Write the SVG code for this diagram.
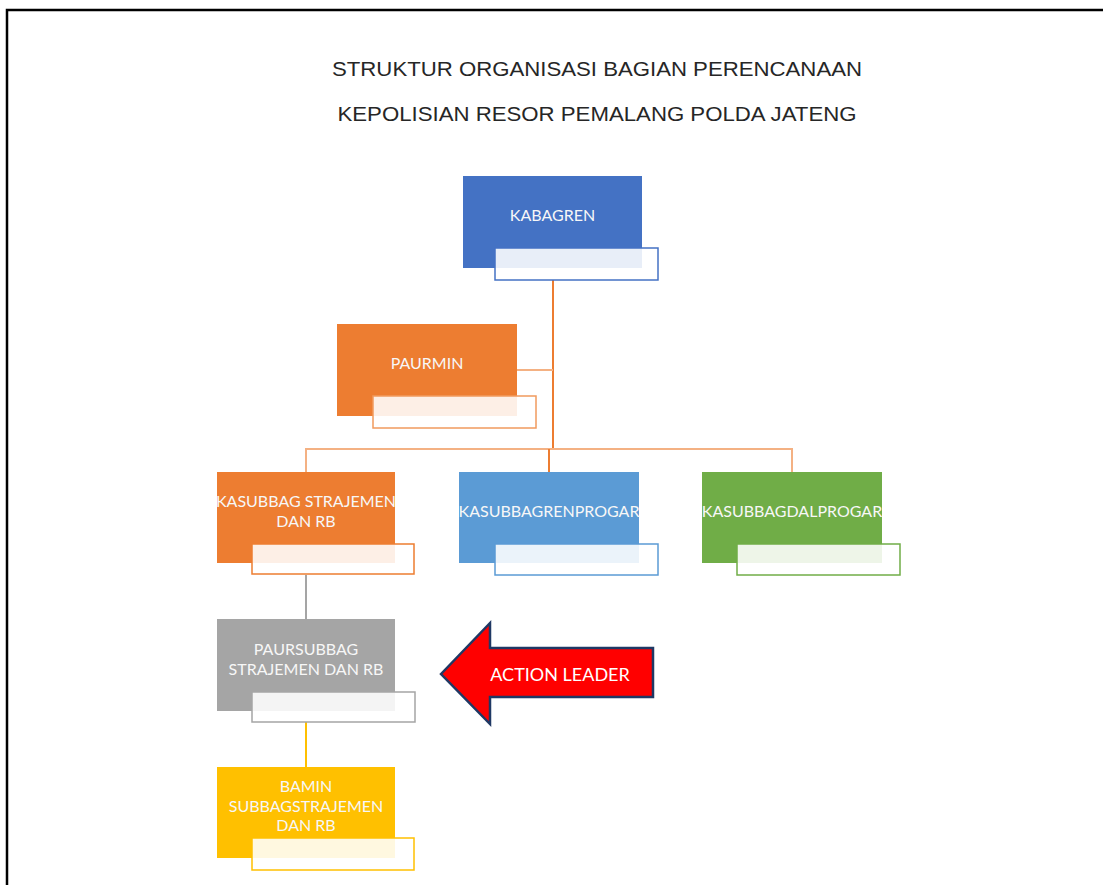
<svg xmlns="http://www.w3.org/2000/svg" width="1103" height="885" viewBox="0 0 1103 885">
<style>
.title{font-family:"Liberation Sans",Arial,sans-serif;font-size:21px;fill:#262626}
.lbl{font-family:Lato,"Open Sans",sans-serif;font-size:16px;fill:#F7F7F7;text-anchor:middle}
.sub{fill:#FFFFFF;fill-opacity:0.88;stroke-width:1.5}
.con{fill:none;stroke-width:2}
</style>
<rect x="0" y="0" width="1103" height="885" fill="#FFFFFF"/>
<path d="M7,885 V10 H1103" fill="none" stroke="#000000" stroke-width="2.5"/>
<text class="title" x="597" y="76" text-anchor="middle" textLength="530" lengthAdjust="spacingAndGlyphs">STRUKTUR ORGANISASI BAGIAN PERENCANAAN</text>
<text class="title" x="597" y="121" text-anchor="middle" textLength="519" lengthAdjust="spacingAndGlyphs">KEPOLISIAN RESOR PEMALANG POLDA JATENG</text>
<g id="connectors">
<path class="con" d="M553,280 V450" stroke="#ED7D31"/>
<path class="con" d="M517,370 H553" stroke="#F4B183"/>
<path class="con" d="M306,472 V449 H792 V472" stroke="#F4B183"/>
<path class="con" d="M549,449 V472" stroke="#ED7D31"/>
<path class="con" d="M306,575 V619" stroke="#A5A5A5" stroke-width="1.5"/>
<path class="con" d="M306,722 V767" stroke="#FFC000" stroke-width="1.5"/>
</g>
<g id="kabagren">
<rect x="463" y="176" width="179" height="92" fill="#4472C4"/>
<text class="lbl" x="552.5" y="221">KABAGREN</text>
<rect class="sub" x="495" y="248" width="163" height="32" stroke="#4472C4"/>
</g>
<g id="paurmin">
<rect x="337" y="324" width="180" height="92" fill="#ED7D31"/>
<text class="lbl" x="427" y="369">PAURMIN</text>
<rect class="sub" x="373" y="396" width="163" height="32" stroke="#F19A5E"/>
</g>
<g id="kasubbag-strajemen">
<rect x="217" y="472" width="178" height="91" fill="#ED7D31"/>
<text class="lbl" x="306" y="507">KASUBBAG STRAJEMEN</text>
<text class="lbl" x="306" y="527">DAN RB</text>
<rect class="sub" x="252" y="544" width="162" height="30" stroke="#ED7D31"/>
</g>
<g id="kasubbagrenprogar">
<rect x="459" y="472" width="180" height="91" fill="#5B9BD5"/>
<text class="lbl" x="549" y="517">KASUBBAGRENPROGAR</text>
<rect class="sub" x="495" y="544" width="163" height="31" stroke="#5B9BD5"/>
</g>
<g id="kasubbagdalprogar">
<rect x="702" y="472" width="180" height="91" fill="#70AD47"/>
<text class="lbl" x="792" y="517">KASUBBAGDALPROGAR</text>
<rect class="sub" x="737" y="544" width="163" height="31" stroke="#70AD47"/>
</g>
<g id="paursubbag">
<rect x="217" y="619" width="178" height="92" fill="#A5A5A5"/>
<text class="lbl" x="306" y="655">PAURSUBBAG</text>
<text class="lbl" x="306" y="675">STRAJEMEN DAN RB</text>
<rect class="sub" x="252" y="692" width="163" height="30" stroke="#A5A5A5"/>
</g>
<g id="bamin">
<rect x="217" y="767" width="178" height="91" fill="#FFC000"/>
<text class="lbl" x="306" y="792">BAMIN</text>
<text class="lbl" x="306" y="812">SUBBAGSTRAJEMEN</text>
<text class="lbl" x="306" y="831">DAN RB</text>
<rect class="sub" x="252" y="838" width="162" height="32" stroke="#FFC000"/>
</g>
<g id="action-leader">
<polygon points="441,674 490,623 490,648 653,648 653,697 490,697 490,724" fill="#FF0000" stroke="#1F3864" stroke-width="2.5" stroke-linejoin="miter"/>
<text class="lbl" x="560" y="681" style="font-size:18px;fill:#FFFFFF">ACTION LEADER</text>
</g>
</svg>
